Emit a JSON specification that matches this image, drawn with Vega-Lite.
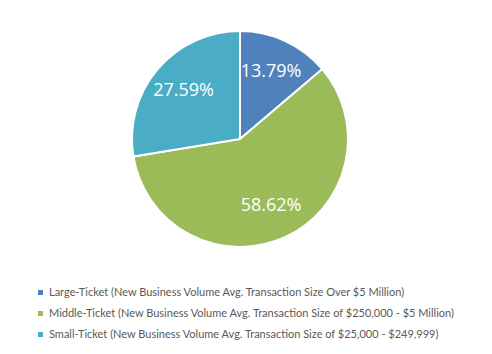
{
  "$schema": "https://vega.github.io/schema/vega-lite/v6.json",
  "width": 480,
  "height": 278,
  "padding": {"left": 0, "top": 0, "right": 12, "bottom": 76},
  "autosize": {"type": "none"},
  "background": "white",
  "config": {"view": {"stroke": null}},
  "data": {
    "values": [
      {"category": "Large-Ticket (New Business Volume Avg. Transaction Size Over $5 Million)", "share": 0.1379},
      {"category": "Middle-Ticket (New Business Volume Avg. Transaction Size of $250,000 - $5 Million)", "share": 0.5862},
      {"category": "Small-Ticket (New Business Volume Avg. Transaction Size of $25,000 - $249,999)", "share": 0.2759}
    ]
  },
  "encoding": {
    "theta": {"field": "share", "type": "quantitative", "stack": true},
    "order": {"field": "category", "sort": "ascending"},
    "color": {
      "field": "category",
      "type": "nominal",
      "scale": {"range": ["#4F81BD", "#9BBB59", "#4BACC6"]},
      "legend": {
        "orient": "none",
        "legendX": 35,
        "legendY": 287,
        "direction": "vertical",
        "title": null,
        "padding": 0,
        "symbolType": "square",
        "symbolSize": 25,
        "symbolStrokeWidth": 0,
        "labelOffset": 3,
        "labelFont": "Lato",
        "labelFontSize": 11,
        "labelColor": "#595959",
        "labelLimit": 500,
        "rowPadding": 9
      }
    }
  },
  "layer": [
    {
      "mark": {"type": "arc", "outerRadius": 108, "stroke": "white", "strokeWidth": 2}
    },
    {
      "mark": {"type": "text", "radius": 74, "font": "Open Sans", "fontSize": 18},
      "encoding": {
        "color": {"value": "white"},
        "detail": {"field": "category", "type": "nominal"},
        "text": {"field": "share", "type": "quantitative", "format": ".2%"}
      }
    }
  ]
}
